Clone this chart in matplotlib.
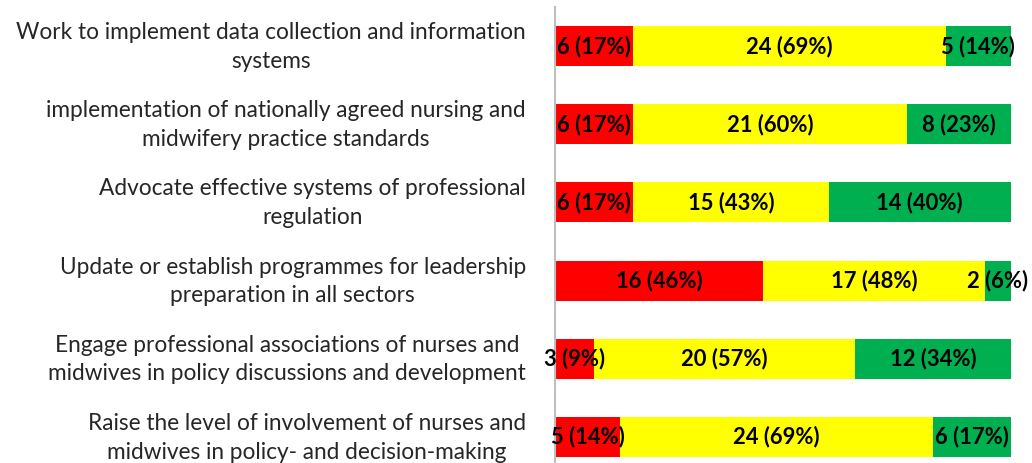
import matplotlib.pyplot as plt
import matplotlib.transforms as mtransforms
import numpy as np

# Categories top to bottom
categories = [
    "Work to implement data collection and information\nsystems",
    "implementation of nationally agreed nursing and\nmidwifery practice standards",
    "Advocate effective systems of professional\nregulation",
    "Update or establish programmes for leadership\npreparation in all sectors",
    "Engage professional associations of nurses and\nmidwives in policy discussions and development",
    "Raise the level of involvement of nurses and\nmidwives in policy- and decision-making",
]
red_n = [6, 6, 6, 16, 3, 5]
yellow_n = [24, 21, 15, 17, 20, 24]
green_n = [5, 8, 14, 2, 12, 6]
red_pct = [17, 17, 17, 46, 9, 14]
yellow_pct = [69, 60, 43, 48, 57, 69]
green_pct = [14, 23, 40, 6, 34, 17]

colors = ['#FF0000', '#FFFF00', '#00B050']

fig = plt.figure(figsize=(10.32, 4.63), dpi=100)
# axes top at y=7px, bands of ~78px, bottom runs past the figure edge
ax = fig.add_axes([555 / 1032, -13 / 463, 456 / 1032, 469 / 463])

y = np.arange(len(categories))
left = np.zeros(len(categories))
for vals, pcts, c in zip([red_n, yellow_n, green_n], [red_pct, yellow_pct, green_pct], colors):
    vals = np.array(vals)
    ax.barh(y, vals, left=left, color=c, height=0.51)
    for yi, l, v, p in zip(y, left, vals, pcts):
        ax.text(l + v / 2, yi, f"{v} ({p}%)", ha='center', va='center',
                fontsize=15.8, fontweight='bold', family='Lato', color='black')
    left = left + vals

ax.set_xlim(0, 35)
ax.set_ylim(len(categories) - 0.5, -0.5)
ax.set_yticks(y)
ax.set_yticklabels(categories, fontsize=16.3, family='Lato', color='#262626',
                   multialignment='center', linespacing=1.45)
ax.tick_params(axis='y', length=0, pad=21)
# nudge labels up a little so the two lines straddle the bar centre
shift = mtransforms.ScaledTranslation(0, 5 / 100, fig.dpi_scale_trans)
for lab in ax.get_yticklabels():
    lab.set_transform(lab.get_transform() + shift)
ax.set_xticks([])
for s in ['top', 'right', 'bottom']:
    ax.spines[s].set_visible(False)
ax.spines['left'].set_color('#BFBFBF')
ax.spines['left'].set_linewidth(1.5)

plt.savefig("out.png", dpi=100)
